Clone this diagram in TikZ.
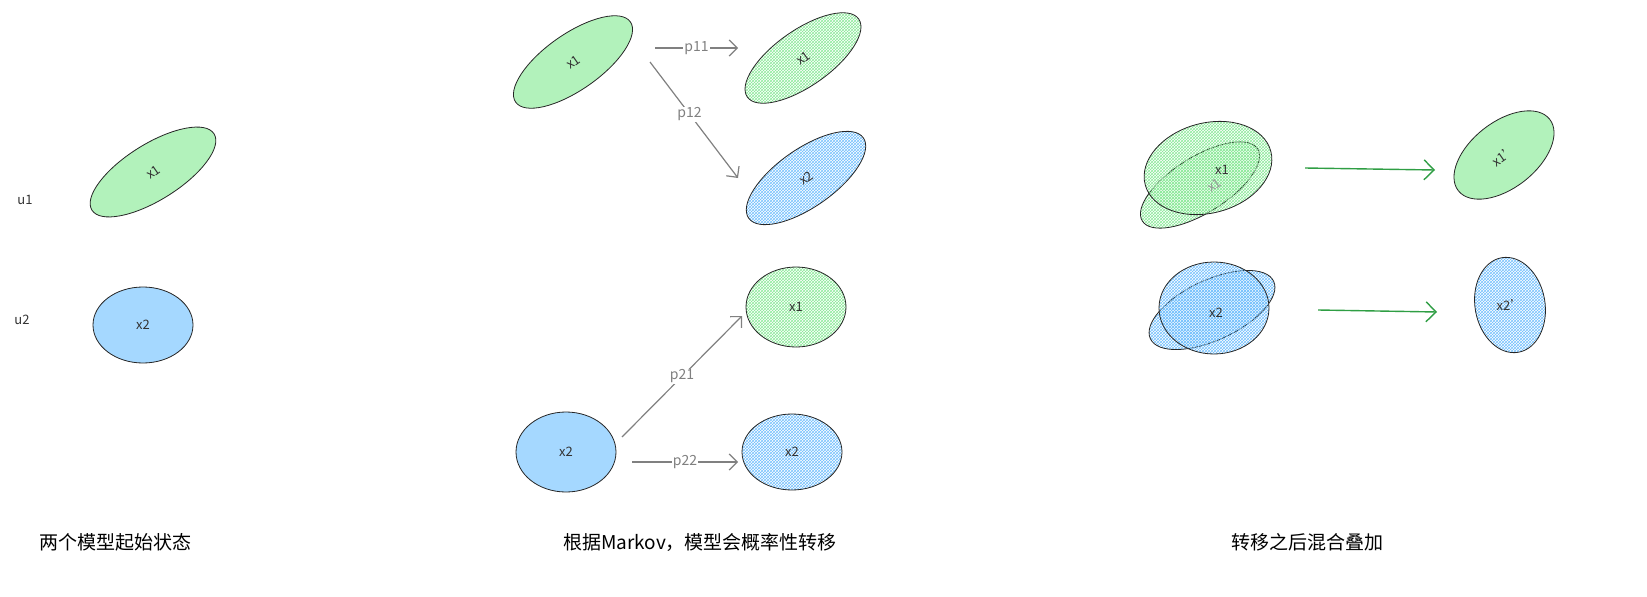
\documentclass[tikz,border=0pt]{standalone}
\usepackage{fontspec}
\setmainfont{Noto Sans CJK SC}
\usetikzlibrary{patterns,arrows.meta}
\definecolor{gfill}{HTML}{B2F2BB}
\definecolor{bfill}{HTML}{A5D8FF}
\definecolor{ghatch}{HTML}{8CE99A}
\definecolor{bhatch}{HTML}{74C0FC}
\definecolor{garrow}{HTML}{2F9E44}
\tikzset{
 el/.style={draw=black!85,line width=0.8pt},
 solidg/.style={el,fill=gfill},
 solidb/.style={el,fill=bfill},
 hatg/.style={el,pattern=crosshatch,pattern color=ghatch},
 hatb/.style={el,pattern=crosshatch,pattern color=bhatch},
 lbl/.style={font=\fontsize{13}{13}\selectfont,text=black!80},
 plbl/.style={font=\fontsize{14}{14}\selectfont,text=gray,fill=white,inner sep=1pt},
 captxt/.style={font=\fontsize{19}{19}\selectfont},
 parr/.style={draw=gray,line width=1.2pt,-{Straight Barb[length=8pt]}},
 garr/.style={draw=garrow,line width=1.4pt,-{Straight Barb[length=10pt]}}
}
\begin{document}
\begin{tikzpicture}[x=1pt,y=-1pt]
\useasboundingbox (0,0) rectangle (1647,597);
% left
\draw[solidg,rotate around={32:(153,172)}] (153,172) ellipse [x radius=72,y radius=28];
\node[lbl,rotate=35] (l1) at (153,172) {x1};
\draw[solidb] (143,325) ellipse [x radius=50,y radius=38];
\node[lbl] (l2) at (143,325) {x2};
\node[lbl] (u1) at (25,200) {u1};
\node[lbl] (u2) at (22,320) {u2};
\node[captxt] (c1) at (115,542) {两个模型起始状态};
% middle top
\draw[solidg,rotate around={35:(573,62)}] (573,62) ellipse [x radius=70,y radius=28];
\node[lbl,rotate=35] (m1) at (573,62) {x1};
\draw[hatg,rotate around={35:(803,58)}] (803,58) ellipse [x radius=68,y radius=28];
\node[lbl,rotate=35] (m11) at (803,58) {x1};
\draw[hatb,rotate around={35:(806,178)}] (806,178) ellipse [x radius=70,y radius=29];
\node[lbl,rotate=35] (m12) at (806,178) {x2};
\coordinate (a1) at (655,48); \coordinate (a2) at (738,48);
\draw[parr] (a1) -- (a2) node[plbl,midway] {p11};
\coordinate (b1) at (650,62); \coordinate (b2) at (738,178);
\draw[parr] (b1) -- (b2) node[plbl,pos=0.45] {p12};
% middle bottom
\draw[hatg] (796,307) ellipse [x radius=50,y radius=40];
\node[lbl] (m21) at (796,307) {x1};
\draw[solidb] (566,452) ellipse [x radius=50,y radius=40];
\node[lbl] (m2) at (566,452) {x2};
\draw[hatb] (792,452) ellipse [x radius=50,y radius=38];
\node[lbl] (m22) at (792,452) {x2};
\coordinate (d1) at (622,437); \coordinate (d2) at (742,316);
\draw[parr] (d1) -- (d2) node[plbl,pos=0.5] {p21};
\coordinate (e1) at (632,462); \coordinate (e2) at (738,462);
\draw[parr] (e1) -- (e2) node[plbl,midway] {p22};
\node[captxt] (c2) at (700,542) {根据Markov，模型会概率性转移};
% right
\draw[hatg,rotate around={32:(1200,185)}] (1200,185) ellipse [x radius=68,y radius=28];
\draw[hatg,rotate around={15:(1208,168)}] (1208,168) ellipse [x radius=65,y radius=45];
\node[lbl,rotate=35,text=black!40] (r1b) at (1214,185) {x1};
\node[lbl] (r1) at (1222,170) {x1};
\draw[hatb,rotate around={25:(1212,310)}] (1212,310) ellipse [x radius=68,y radius=30];
\draw[hatb] (1214,308) ellipse [x radius=55,y radius=46];
\node[lbl] (r2) at (1216,313) {x2};
\coordinate (f1) at (1305,168); \coordinate (f2) at (1435,170);
\draw[garr] (f1) -- (f2);
\coordinate (g1) at (1318,310); \coordinate (g2) at (1437,312);
\draw[garr] (g1) -- (g2);
\draw[el,fill=gfill,rotate around={38:(1504,155)}] (1504,155) ellipse [x radius=58,y radius=33];
\node[lbl,rotate=35] (r1p) at (1504,155) {x1'};
\draw[hatb,rotate around={10:(1510,305)}] (1510,305) ellipse [x radius=35,y radius=48];
\node[lbl] (r2p) at (1510,305) {x2'};
\node[captxt] (c3) at (1307,542) {转移之后混合叠加};
\end{tikzpicture}
\end{document}
